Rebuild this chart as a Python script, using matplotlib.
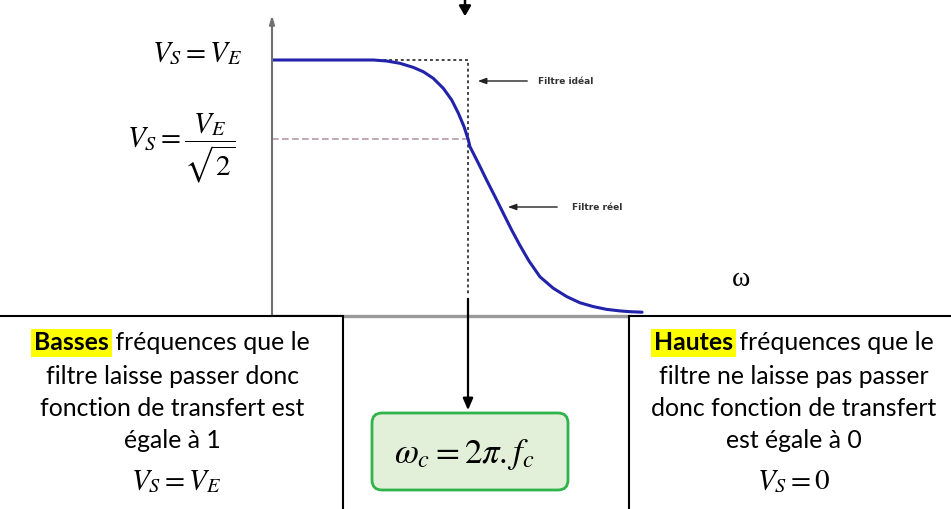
import matplotlib
matplotlib.use("Agg")
import matplotlib.pyplot as plt
from matplotlib.patches import Rectangle, FancyBboxPatch

plt.rcParams['mathtext.fontset'] = 'stix'

# ---- data ----
omega = [0.0, 0.296, 0.449, 0.517, 0.585, 0.653, 0.721, 0.772, 0.823, 0.874,
         0.917, 0.951, 0.980, 1.002, 1.010, 1.053, 1.095, 1.138, 1.180, 1.223,
         1.265, 1.311, 1.367, 1.435, 1.504, 1.571, 1.639, 1.708, 1.776, 1.827,
         1.888]
vs_real = [1.0, 1.0, 1.0, 1.0, 0.996, 0.987, 0.971, 0.954, 0.928, 0.889,
           0.843, 0.791, 0.738, 0.686, 0.660, 0.595, 0.529, 0.464, 0.399, 0.333,
           0.273, 0.212, 0.150, 0.105, 0.072, 0.048, 0.033, 0.022, 0.016, 0.013,
           0.011]
ideal_x = [0.45, 1.0, 1.0]
ideal_y = [1.0, 1.0, 0.075]
v_half = 0.69
omega_c = 1.0

left_lines = ["filtre laisse passer donc", "fonction de transfert est", "égale à 1"]
right_lines = ["filtre ne laisse pas passer", "donc fonction de transfert", "est égale à 0"]

W, H = 951, 509
fig = plt.figure(figsize=(W / 100, H / 100), dpi=100)
fig.patch.set_facecolor('white')

# graph axes: omega=0 at px 272, omega=1 at px 468 ; V=0 at py 315, V=1 at py 60
gx0, gx1, gy0, gy1 = 272, 700, 15, 315
g = fig.add_axes([gx0 / W, 1 - gy1 / H, (gx1 - gx0) / W, (gy1 - gy0) / H])
g.set_xlim(0, (gx1 - gx0) / 196)
g.set_ylim(0, (gy1 - gy0) / 255)
g.axis('off')
# axes lines
g.plot([0, 1.83], [-0.004, -0.004], color='#9a9a9a', lw=2.4, solid_capstyle='butt',
       clip_on=False)
g.annotate('', xy=(0, (gy1 - gy0) / 255 + 0.01), xytext=(0, -0.01),
           arrowprops=dict(arrowstyle='-|>,head_length=0.5,head_width=0.15',
                           color='#707070', lw=1.5), annotation_clip=False)
# half-power dashed line
g.plot([0, omega_c], [v_half, v_half], color='#b89aa8', lw=1.2, ls=(0, (4, 2)))
# ideal filter
g.plot(ideal_x, ideal_y, color='#444444', lw=1.4, ls=(0, (1.5, 1.5)))
# real filter
g.plot(omega, vs_real, color='#2222aa', lw=2.2, solid_joinstyle='round',
       solid_capstyle='round')

# overlay axes in pixel coordinates
ax = fig.add_axes([0, 0, 1, 1])
ax.set_xlim(0, W)
ax.set_ylim(H, 0)
ax.axis('off')

# annotation arrows inside the chart
ax.annotate('', xy=(475, 81), xytext=(530, 81),
            arrowprops=dict(arrowstyle='-|>,head_length=0.5,head_width=0.18',
                            color='#222222', lw=1.0))
ax.text(538, 81, 'Filtre idéal', fontsize=6.5, fontweight='bold', color='#333333',
        va='center', ha='left')
ax.annotate('', xy=(505, 207), xytext=(560, 207),
            arrowprops=dict(arrowstyle='-|>,head_length=0.5,head_width=0.18',
                            color='#222222', lw=1.0))
ax.text(572, 207, 'Filtre réel', fontsize=6.5, fontweight='bold', color='#333333',
        va='center', ha='left')

# top arrow
ax.annotate('', xy=(465, 19), xytext=(465, -5),
            arrowprops=dict(arrowstyle='-|>,head_length=0.6,head_width=0.35',
                            color='black', lw=1.8), annotation_clip=False)

# omega label
ax.text(741, 280, 'ω', fontsize=20, family='Liberation Serif', ha='center',
        va='center')

# left formulas
ax.text(197, 53, r'$V_S = V_E$', fontsize=21, ha='center', va='center')
ax.text(181, 148, r'$V_S = \dfrac{V_E}{\sqrt{2}}$', fontsize=21, ha='center',
        va='center')

# boxes
ax.add_patch(Rectangle((-5, 316), 348, 220, facecolor='white', edgecolor='black',
                       lw=1.5, zorder=3))
ax.add_patch(Rectangle((629, 316), 330, 220, facecolor='white', edgecolor='black',
                       lw=1.5, zorder=3))

# arrow to green box
ax.annotate('', xy=(468, 413), xytext=(468, 296),
            arrowprops=dict(arrowstyle='-|>,head_length=0.7,head_width=0.3',
                            color='black', lw=1.6), zorder=4)

ax.add_patch(FancyBboxPatch((372, 413), 196, 77,
                            boxstyle='round,pad=0,rounding_size=10',
                            facecolor='#e2f0d9', edgecolor='#2fb34a', lw=2,
                            zorder=3))
ax.text(464, 455, r'$\omega_c = 2\pi . f_c$', fontsize=25, ha='center',
        va='center', zorder=5)

fam = ['Lato', 'DejaVu Sans']
line_y = [343, 376, 408, 440]

fig.canvas.draw()
r = fig.canvas.get_renderer()

# fit font size so that "fonction de transfert est" is about 264 px wide
probe = ax.text(0, 0, left_lines[1], fontsize=18, family=fam)
fs = 18 * 264 / probe.get_window_extent(r).width
probe.remove()


def mixed(xc, y, hl, rest):
    t1 = ax.text(0, y, hl, fontsize=fs, fontweight='bold', family=fam,
                 va='center', ha='left', zorder=6,
                 bbox=dict(facecolor='#ffff00', edgecolor='none', pad=2.2))
    t2 = ax.text(0, y, rest, fontsize=fs, family=fam, va='center', ha='left',
                 zorder=6)
    w1 = t1.get_window_extent(r).width
    w2 = t2.get_window_extent(r).width
    s = xc - (w1 + w2) / 2
    t1.set_x(s)
    t2.set_x(s + w1)


mixed(172, line_y[0], 'Basses', ' fréquences que le')
mixed(794, line_y[0], 'Hautes', ' fréquences que le')
for y, tl, tr in zip(line_y[1:], left_lines, right_lines):
    ax.text(172, y, tl, fontsize=fs, family=fam, ha='center', va='center', zorder=6)
    ax.text(794, y, tr, fontsize=fs, family=fam, ha='center', va='center', zorder=6)

ax.text(176, 481, r'$V_S = V_E$', fontsize=21, ha='center', va='center', zorder=6)
ax.text(794, 481, r'$V_S = 0$', fontsize=21, ha='center', va='center', zorder=6)

fig.savefig('out.png', dpi=100)
